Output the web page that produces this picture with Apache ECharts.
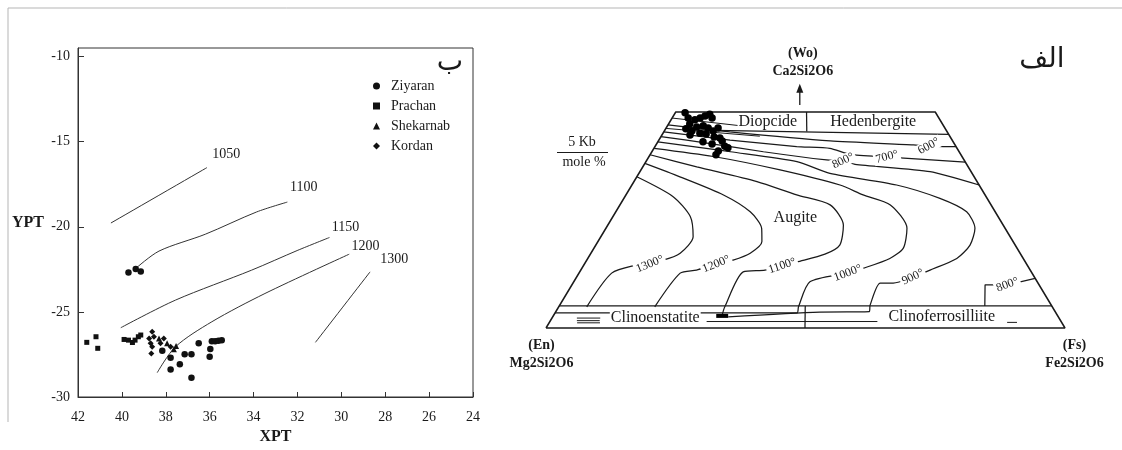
<!DOCTYPE html>
<html>
<head>
<meta charset="utf-8">
<script src="https://cdn.jsdelivr.net/npm/echarts@6/dist/echarts.min.js"></script>
<style>
  html, body { margin: 0; padding: 0; background: #fff; }
  #chart { width: 1122px; height: 450px; }
</style>
</head>
<body>
<div id="chart"></div>
<script>
// ---------- Left panel: XPT / YPT clinopyroxene thermometer ----------
const xptRange = [24, 42];          // axis drawn inverted (42 on the left)
const yptRange = [-30, -9.5];
const tickStep = { x: 2, y: 5 };

const ziyaran = [
  [39.70, -22.69], [39.37, -22.48], [39.14, -22.63],
  [38.16, -27.28], [37.78, -27.69], [37.78, -28.38], [37.36, -28.08],
  [37.14, -27.49], [36.83, -27.49], [36.83, -28.87], [36.50, -26.85],
  [35.97, -27.18], [36.00, -27.64], [35.90, -26.72], [35.75, -26.72],
  [35.60, -26.70], [35.45, -26.66]
];
const prachan = [
  [41.60, -26.79], [41.18, -26.46], [41.10, -27.14],
  [39.90, -26.62], [39.70, -26.66], [39.52, -26.80], [39.40, -26.66],
  [39.25, -26.46], [39.14, -26.36]
];
const shekarnab = [
  [38.31, -26.56], [37.94, -26.85], [37.53, -27.01], [37.63, -27.20]
];
const kordan = [
  [38.62, -26.17], [38.54, -26.46], [38.76, -26.56], [38.69, -26.85],
  [38.62, -27.05], [38.66, -27.44], [38.24, -26.85], [38.09, -26.56],
  [37.78, -27.05]
];

// isotherms (°C)
const iso1050 = [[40.50, -19.78], [36.13, -16.53]];
const iso1100 = [[39.37, -22.45], [38.31, -21.43], [36.20, -20.44], [33.86, -19.13], [32.46, -18.55]];
const iso1150 = [[40.05, -25.93], [37.56, -24.31], [34.09, -22.55], [31.98, -21.38], [30.54, -20.63]];
const iso1200 = [[38.39, -28.57], [37.56, -27.05], [35.90, -25.58], [33.48, -23.92], [29.64, -21.61]];
const iso1300 = [[31.18, -26.79], [28.69, -22.65]];
const isoLabelsLeft = [
  [35.24, -15.75, '1050'], [31.71, -17.71, '1100'], [29.81, -20.06, '1150'],
  [28.90, -21.14, '1200'], [27.59, -21.90, '1300']
];

// ---------- Right panel: pyroxene quadrilateral, [Fs mol%, Wo mol%] ----------
const quadOutline  = [[0, 0], [100, 0], [50, 50], [0, 50], [0, 0]];
const diHdBase     = [[6.8, 45.8], [55.2, 44.8]];
const diHdDivider  = [[25.2, 50], [27.5, 45.5]];
const clinoTop     = [[0, 5.1], [94.9, 5.1]];
const clinoDivider = [[49.9, 0], [47.4, 5.1]];
const fanA = [[0, 48.6], [18.1, 46.3]];
const fanB = [[0, 46.2], [19.0, 44.4]];

const iso600r  = [[0, 47.0], [12.7, 45.4], [33.1, 43.3], [49.6, 42.4], [52.7, 42.1], [55.6, 42.0], [58.0, 42.0]];
const iso700r  = [[0, 45.4], [13.7, 43.5], [27.3, 42.0], [33.9, 41.6], [38.5, 40.2], [45.9, 39.6], [48.5, 39.4], [61.6, 38.4]];
const iso800r  = [[0, 44.3], [9.6, 42.8], [21.5, 40.8], [34.6, 38.9], [37.9, 38.7], [40.6, 37.9], [55.9, 36.2], [66.9, 33.1]];
const iso800lo = [[88.5, 11.5], [83.9, 10.0], [79.6, 10.0], [82.0, 5.1]];
const iso900r  = [[0, 43.1], [15.1, 40.8], [29.1, 38.5], [36.8, 35.8], [51.0, 33.1], [60.9, 30.0], [67.6, 26.9],
                  [71.1, 23.1], [72.1, 19.2], [71.1, 16.1], [67.3, 13.4], [64.8, 11.8], [61.7, 10.4], [59.2, 10.4],
                  [59.8, 5.3], [60.4, 3.8], [50.9, 3.7], [33.8, 2.6]];
const iso1000r = [[0, 41.6], [12.4, 39.7], [26.8, 36.6], [40.1, 33.1], [45.7, 30.8], [52.1, 28.5], [58.0, 23.1],
                  [59.6, 18.5], [58.2, 16.1], [54.2, 13.8], [51.8, 12.7], [45.5, 10.7], [46.2, 4.9], [46.6, 3.5], [0, 3.5]];
const iso1100r = [[0, 40.1], [10.4, 37.3], [23.7, 33.9], [32.9, 30.8], [40.5, 28.5], [45.4, 23.8], [47.0, 19.2],
                  [45.2, 17.1], [40.7, 15.3], [38.3, 14.4], [35.5, 13.4], [31.5, 13.0], [32.0, 4.9], [32.5, 2.8]];
const iso1200r = [[0, 38.1], [8.3, 35.0], [18.8, 30.8], [25.9, 26.9], [30.0, 23.1], [31.6, 20.0], [30.7, 17.3],
                  [28.2, 15.7], [25.0, 14.6], [22.3, 13.4], [19.5, 12.7], [18.5, 4.9]];
const iso1300r = [[0, 35.0], [9.3, 30.4], [14.9, 25.8], [17.8, 21.1], [17.2, 17.3], [14.7, 15.7], [10.2, 14.6],
                  [6.3, 12.7], [5.4, 4.9]];

const clinoLines = [
  [[30.2, 1.5], [63.1, 1.5]],
  [[88.2, 1.3], [90.1, 1.3]],
  [[4.8, 2.3], [9.3, 2.3]],
  [[5.1, 1.7], [9.5, 1.7]],
  [[5.4, 1.2], [9.8, 1.2]]
];
const clinoMark = [[31.4, 2.8], [33.7, 2.8]];

const isoLabelsRight = [
  [12.6, 14.8, '1300°', 22], [25.4, 14.8, '1200°', 22], [38.3, 14.4, '1100°', 18],
  [51.8, 12.7, '1000°', 20], [64.8, 11.8, '900°', 25], [83.9, 10.0, '800°', 20],
  [37.9, 38.7, '800°', 25], [45.9, 39.6, '700°', 15], [52.7, 42.1, '600°', 28]
];
const phaseLabels = [
  [18.9, 47.7, 'Diopcide'], [39.2, 47.7, 'Hedenbergite'], [35.3, 25.5, 'Augite'],
  [19.9, 2.3, 'Clinoenstatite'], [75.0, 2.5, 'Clinoferrosilliite']
];
const pyroxenes = [
  [1.9, 49.8], [3.1, 48.6], [4.1, 47.2], [3.9, 46.1], [5.3, 45.6], [4.6, 48.2], [5.4, 48.6],
  [6.1, 49.1], [6.8, 49.5], [7.7, 48.6], [5.8, 46.5], [6.9, 46.8], [8.1, 46.3], [5.4, 44.7],
  [7.1, 45.1], [8.4, 44.9], [9.4, 45.6], [10.0, 46.3], [10.3, 44.2], [11.5, 44.0], [8.7, 43.1],
  [10.7, 42.6], [12.7, 41.0], [13.4, 42.1], [12.3, 43.3], [12.7, 40.1], [14.2, 41.7]
];
const endMembers = [
  [0, 0, '(En)\nMg2Si2O6', -4.5],
  [100, 0, '(Fs)\nFe2Si2O6', 9.5]
];
const woArrow = [[23.1, 51.6], [21.15, 55.5]];
const woLabel = '(Wo)\nCa2Si2O6';

// Fs/Wo composition -> position inside the quadrilateral frame
const toXY = p => [p[0] + p[1] / 2, p[1]];

const FONT = 'Liberation Serif';
const INK = '#1a1a1a';

function quadLine(pts, extra) {
  return Object.assign({
    type: 'line', xAxisIndex: 1, yAxisIndex: 1,
    data: pts.map(toXY), symbol: 'none', showSymbol: false,
    silent: true, clip: false, z: 3,
    lineStyle: { color: INK, width: 1.25 }
  }, extra || {});
}
function leftIso(pts) {
  return {
    type: 'line', xAxisIndex: 0, yAxisIndex: 0, data: pts,
    symbol: 'none', showSymbol: false, silent: true, smooth: 0.3,
    lineStyle: { color: '#333', width: 1 }, z: 2
  };
}
function sampleSeries(name, data, symbol, size) {
  return {
    type: 'scatter', name, xAxisIndex: 0, yAxisIndex: 0, data,
    symbol, symbolSize: size,
    itemStyle: { color: '#111', opacity: 1 }, z: 4
  };
}
// plain text label centred on its point
function textLabel(size, extra) {
  return Object.assign({
    show: true, position: 'inside', formatter: p => p.value[2],
    color: INK, fontFamily: FONT, fontSize: size, opacity: 1,
    textBorderWidth: 0, textBorderColor: 'transparent'
  }, extra || {});
}
const solid = { color: INK, opacity: 1 };

const series = [
  leftIso(iso1050), leftIso(iso1100), leftIso(iso1150), leftIso(iso1200), leftIso(iso1300),
  sampleSeries('Ziyaran', ziyaran, 'circle', 6.5),
  sampleSeries('Prachan', prachan, 'rect', 5),
  sampleSeries('Shekarnab', shekarnab, 'triangle', 6),
  sampleSeries('Kordan', kordan, 'diamond', 6),
  {
    type: 'scatter', xAxisIndex: 0, yAxisIndex: 0, symbolSize: 0, silent: true,
    data: isoLabelsLeft, itemStyle: solid,
    label: textLabel(14)
  },
  // quadrilateral frame and fields
  quadLine(quadOutline, { lineStyle: { color: INK, width: 1.5 } }),
  quadLine(diHdBase), quadLine(diHdDivider), quadLine(clinoTop), quadLine(clinoDivider),
  quadLine(fanA, { lineStyle: { color: INK, width: 1 } }),
  quadLine(fanB, { lineStyle: { color: INK, width: 1 } }),
  quadLine(iso600r, { smooth: 0.2 }), quadLine(iso700r, { smooth: 0.2 }),
  quadLine(iso800r, { smooth: 0.2 }), quadLine(iso800lo),
  quadLine(iso900r, { smooth: 0.25 }), quadLine(iso1000r, { smooth: 0.25 }),
  quadLine(iso1100r, { smooth: 0.25 }), quadLine(iso1200r, { smooth: 0.25 }),
  quadLine(iso1300r, { smooth: 0.25 }),
  ...clinoLines.map(l => quadLine(l, { lineStyle: { color: INK, width: 1 } })),
  quadLine(clinoMark, { lineStyle: { color: '#000', width: 4 } }),
  // arrow to the Wo apex
  quadLine(woArrow, {
    data: [
      { value: toXY(woArrow[0]), symbol: 'none' },
      { value: toXY(woArrow[1]), symbol: 'triangle', symbolSize: [7, 9],
        label: { show: true, position: 'top', distance: 3, formatter: woLabel,
                 fontFamily: FONT, fontWeight: 'bold', fontSize: 14, lineHeight: 18, color: INK, align: 'center',
                 offset: [3, 0], textBorderWidth: 0 } }
    ],
    showSymbol: true, itemStyle: solid, lineStyle: { color: INK, width: 1.3 }
  }),
  // analysed pyroxenes
  {
    type: 'scatter', xAxisIndex: 1, yAxisIndex: 1, silent: true, clip: false,
    data: pyroxenes.map(toXY), symbol: 'circle', symbolSize: 7.5,
    itemStyle: { color: '#000', opacity: 1 }, z: 6
  },
  // isotherm labels
  {
    type: 'scatter', xAxisIndex: 1, yAxisIndex: 1, silent: true, clip: false, symbolSize: 0, z: 7,
    itemStyle: solid,
    data: isoLabelsRight.map(d => ({
      value: toXY(d).concat([d[2]]),
      label: { rotate: d[3] }
    })),
    label: textLabel(12, { backgroundColor: '#fff', padding: [0, 2] })
  },
  // field names
  {
    type: 'scatter', xAxisIndex: 1, yAxisIndex: 1, silent: true, clip: false, symbolSize: 0, z: 7,
    itemStyle: solid,
    data: phaseLabels.map(d => toXY(d).concat([d[2]])),
    label: textLabel(16, { backgroundColor: '#fff', padding: [0, 1] })
  },
  // end members
  {
    type: 'scatter', xAxisIndex: 1, yAxisIndex: 1, silent: true, clip: false, symbolSize: 0, z: 7,
    itemStyle: solid,
    data: endMembers.map(d => ({ value: toXY(d).concat([d[2]]), label: { offset: [d[3], 0] } })),
    label: textLabel(14, { position: 'bottom', distance: 8, align: 'center', fontWeight: 'bold', lineHeight: 18 })
  }
];

const chart = echarts.init(document.getElementById('chart'), null, { renderer: 'canvas' });
chart.setOption({
  animation: false,
  backgroundColor: '#fff',
  textStyle: { fontFamily: FONT },
  grid: [
    { left: 78, right: 649, top: 48, bottom: 53, show: true, borderColor: '#333', borderWidth: 1, backgroundColor: 'transparent' },
    { left: 546, right: 57, top: 112, bottom: 122, show: false }
  ],
  xAxis: [
    {
      type: 'value', gridIndex: 0, inverse: true, min: xptRange[0], max: xptRange[1], interval: tickStep.x,
      name: 'XPT', nameLocation: 'middle', nameGap: 32,
      nameTextStyle: { fontFamily: FONT, fontWeight: 'bold', fontSize: 16, color: INK },
      axisLine: { show: true, lineStyle: { color: '#333' } },
      axisTick: { show: true, inside: true, length: 5, lineStyle: { color: '#333' } },
      axisLabel: { color: INK, fontFamily: FONT, fontSize: 14, margin: 13 },
      splitLine: { show: false }
    },
    { type: 'value', gridIndex: 1, min: 0, max: 100, show: false }
  ],
  yAxis: [
    {
      type: 'value', gridIndex: 0, min: yptRange[0], max: yptRange[1], interval: tickStep.y,
      name: 'YPT', nameLocation: 'middle', nameGap: 34, nameRotate: 0,
      nameTextStyle: { fontFamily: FONT, fontWeight: 'bold', fontSize: 16, color: INK, align: 'right', verticalAlign: 'middle' },
      axisLine: { show: true, lineStyle: { color: '#333' } },
      axisTick: { show: true, inside: true, length: 6, lineStyle: { color: '#333' } },
      axisLabel: { color: INK, fontFamily: FONT, fontSize: 14, margin: 8, showMaxLabel: false,
                   formatter: v => (v % 5 === 0 ? String(v) : '') },
      splitLine: { show: false }
    },
    { type: 'value', gridIndex: 1, min: 0, max: 50, show: false }
  ],
  legend: {
    data: ['Ziyaran', 'Prachan', 'Shekarnab', 'Kordan'],
    orient: 'vertical', left: 368, top: 74,
    itemWidth: 7, itemHeight: 7, itemGap: 6,
    textStyle: { fontFamily: FONT, fontSize: 14, color: INK, lineHeight: 14, padding: [0, 0, 0, 6] },
    selectedMode: false
  },
  graphic: [
    { type: 'line', shape: { x1: 8, y1: 8, x2: 1122, y2: 8 }, style: { stroke: '#b5b5b5', lineWidth: 1 }, silent: true },
    { type: 'line', shape: { x1: 8, y1: 8, x2: 8, y2: 422 }, style: { stroke: '#b5b5b5', lineWidth: 1 }, silent: true },
    { type: 'text', x: 450, y: 63, silent: true,
      style: { text: 'ب', font: '28px "DejaVu Sans"', fill: INK, textAlign: 'center', textVerticalAlign: 'middle' } },
    { type: 'text', x: 1042, y: 60, silent: true,
      style: { text: 'الف', font: '28px "DejaVu Sans"', fill: INK, textAlign: 'center', textVerticalAlign: 'middle' } },
    { type: 'text', x: 582, y: 142, silent: true,
      style: { text: '5 Kb', font: '14px "Liberation Serif"', fill: INK, textAlign: 'center', textVerticalAlign: 'middle' } },
    { type: 'line', shape: { x1: 557, y1: 152.5, x2: 608, y2: 152.5 }, style: { stroke: INK, lineWidth: 1 }, silent: true },
    { type: 'text', x: 584, y: 162, silent: true,
      style: { text: 'mole %', font: '14px "Liberation Serif"', fill: INK, textAlign: 'center', textVerticalAlign: 'middle' } }
  ],
  series
});
</script>
</body>
</html>
